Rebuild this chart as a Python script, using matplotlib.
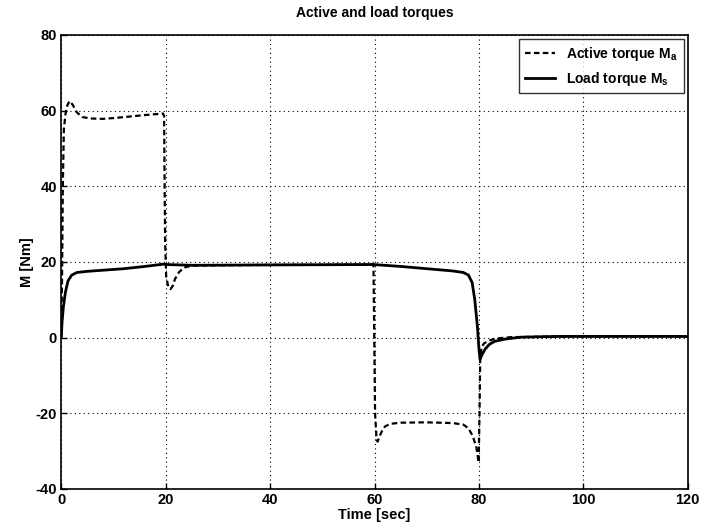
import matplotlib
matplotlib.use("Agg")
import matplotlib.pyplot as plt

plt.rcParams['font.family'] = ['Liberation Sans', 'DejaVu Sans']
plt.rcParams['font.weight'] = 'bold'
plt.rcParams['mathtext.default'] = 'regular'
plt.rcParams['axes.unicode_minus'] = False

# Active torque M_a (dashed)
t_active = [0, 0.15, 0.3, 0.5, 0.8, 1.2, 1.6, 2.2, 3.0, 4.0, 5.5, 8.0, 10.0, 13.0, 16.0, 19.5,
            19.7, 19.8, 19.9, 20.1, 20.5, 20.9, 21.3, 21.8, 22.5, 23.5, 25.0, 30, 40, 50, 59.8,
            59.95, 60.1, 60.4, 60.6, 61.0, 61.5, 62.0, 63.0, 65, 70, 75, 77, 78, 78.8, 79.5,
            79.95, 80.1, 80.25, 80.5, 81, 82, 83, 86, 95, 120]
m_active = [0, 15, 40, 55, 59, 61.5, 62.5, 61.5, 59.5, 58.3, 57.9, 57.8, 58.0, 58.4, 58.8, 59.2,
            58.5, 40, 25, 16, 13.5, 12.8, 13.5, 15.5, 17.2, 18.5, 19.0, 19.1, 19.2, 19.2, 19.3,
            0, -20, -27, -27.5, -26, -24.5, -23.5, -22.8, -22.5, -22.4, -22.6, -23, -24, -26, -29,
            -33, -20, -5, -2.5, -1.5, -0.8, -0.3, 0.1, 0.3, 0.3]

# Load torque M_s (solid)
t_load = [0, 0.15, 0.4, 0.8, 1.3, 2.0, 3.0, 5.0, 8.0, 12.0, 16.0, 19.6, 20.2, 25, 40, 59.8,
          65, 70, 75, 77, 78, 78.7, 79.2, 79.7, 80.0, 80.2, 80.6, 81.2, 82, 83, 85, 88, 95, 120]
m_load = [0, 4, 8, 12, 15, 16.5, 17.2, 17.5, 17.8, 18.2, 18.8, 19.4, 19.3, 19.1, 19.2, 19.3,
          18.8, 18.2, 17.6, 17.2, 16.5, 14.5, 10, 3, -3, -5.7, -4.5, -3, -1.8, -1.0, -0.4, 0.1, 0.3, 0.3]

x_ticks = [0, 20, 40, 60, 80, 100, 120]
y_ticks = [-40, -20, 0, 20, 40, 60, 80]

fig = plt.figure(figsize=(7.04, 5.28), dpi=100)
ax = fig.add_axes([0.087, 0.074, 0.890, 0.860])

ax.plot(t_active, m_active, color='black', linewidth=1.6, linestyle=(0, (2.5, 1.5)),
        label='Active torque M$_a$')
ax.plot(t_load, m_load, color='black', linewidth=2.0, linestyle='-',
        label='Load torque M$_s$')

ax.set_xlim(0, 120)
ax.set_ylim(-40, 80)
ax.set_xticks(x_ticks)
ax.set_yticks(y_ticks)
ax.grid(True, color='black', linestyle=(0, (1, 3)), linewidth=0.8)
ax.tick_params(direction='in', labelsize=10.5, length=4, width=1, pad=3)
for s in ax.spines.values():
    s.set_linewidth(1.2)

ax.set_title('Active and load torques', fontsize=10, fontweight='bold', pad=13)
ax.set_xlabel('Time [sec]', fontsize=10.5, fontweight='bold', labelpad=1)
ax.set_ylabel('M [Nm]', fontsize=10.5, fontweight='bold', labelpad=1)

leg = ax.legend(loc='upper right', fontsize=10, frameon=True, fancybox=False,
                edgecolor='black', handlelength=2.2, borderpad=0.4, labelspacing=0.5,
                borderaxespad=0.3)
leg.get_frame().set_linewidth(1.0)

fig.savefig('out.png', dpi=100)
